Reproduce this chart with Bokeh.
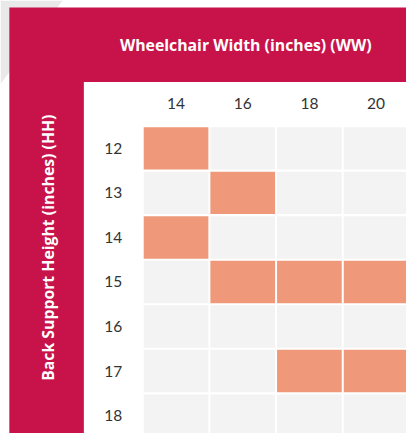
from math import pi
from bokeh.plotting import figure
from bokeh.models import Range1d
from bokeh.core.properties import value
from bokeh.embed import file_html
from bokeh.resources import INLINE

# ---- data ----
widths = [14, 16, 18, 20]                 # Wheelchair Width (inches)
heights = [12, 13, 14, 15, 16, 17, 18]    # Back Support Height (inches)
hl_w = [14, 16, 14, 16, 18, 20, 18, 20]   # highlighted combinations
hl_h = [12, 13, 14, 15, 15, 15, 17, 17]
x_title = "Wheelchair Width (inches) (WW)"
y_title = "Back Support Height (inches) (HH)"

CRIMSON = "#C8134A"
ORANGE = "#F0987A"
GREY = "#F3F3F3"
BAND = "#E9E9E9"
FONT = "Lato"
TITLE_FONT = "Open Sans"

hl = set(zip(hl_w, hl_h))
gx, gy, gc = [], [], []
for h in heights:
    for w in widths:
        gx.append(w)
        gy.append(h)
        gc.append(ORANGE if (w, h) in hl else GREY)

# layout (data units: x = inches of width, y = inches of height)
X0, X1 = 8.735, 20.912
Y_TOP, Y_BOT = 8.6755, 18.404

p = figure(width=406, height=433, output_backend="svg", toolbar_location=None,
           x_range=Range1d(X0, X1), y_range=Range1d(Y_BOT, Y_TOP),
           x_axis_location=None, y_axis_location=None,
           min_border=0, min_border_left=0, min_border_top=0,
           min_border_right=0, min_border_bottom=0)
p.grid.visible = False
p.outline_line_color = None
p.background_fill_color = "white"
p.border_fill_color = "white"

# decorative grey band in the corner
p.patch(x=[X0, 10.60, X0], y=[Y_TOP, Y_TOP, 10.55], fill_color=BAND, line_color=None)
# crimson panel
p.quad(left=[9.0], right=[X1 + 1], top=[8.830], bottom=[Y_BOT + 1],
       fill_color=CRIMSON, line_color=None)
# white table panel
p.quad(left=[11.235], right=[X1 + 1], top=[10.507], bottom=[Y_BOT + 1],
       fill_color="white", line_color=None)

p.rect(x=gx, y=gy, width=1.94, height=0.95, fill_color=gc, line_color=None)

header_y = heights[0] - 1.0
label_x = widths[0] - 1.88
p.text(x=widths, y=[header_y] * len(widths), text=[str(w) for w in widths],
       text_align="center", text_baseline="middle", text_color="#333333",
       text_font=value(FONT), text_font_size="15.5px")
p.text(x=[label_x] * len(heights), y=heights, text=[str(h) for h in heights],
       text_align="center", text_baseline="middle", text_color="#333333",
       text_font=value(FONT), text_font_size="15.5px")

p.text(x=[16.09], y=[9.668], text=[x_title], text_align="center",
       text_baseline="middle", text_color="white", text_font=value(TITLE_FONT),
       text_font_style="bold", text_font_size="15.8px")
p.text(x=[10.16], y=[14.23], text=[y_title], angle=pi / 2, text_align="center",
       text_baseline="middle", text_color="white", text_font=value(TITLE_FONT),
       text_font_style="bold", text_font_size="15.8px")

open("out.html", "w").write(file_html(p, INLINE))
